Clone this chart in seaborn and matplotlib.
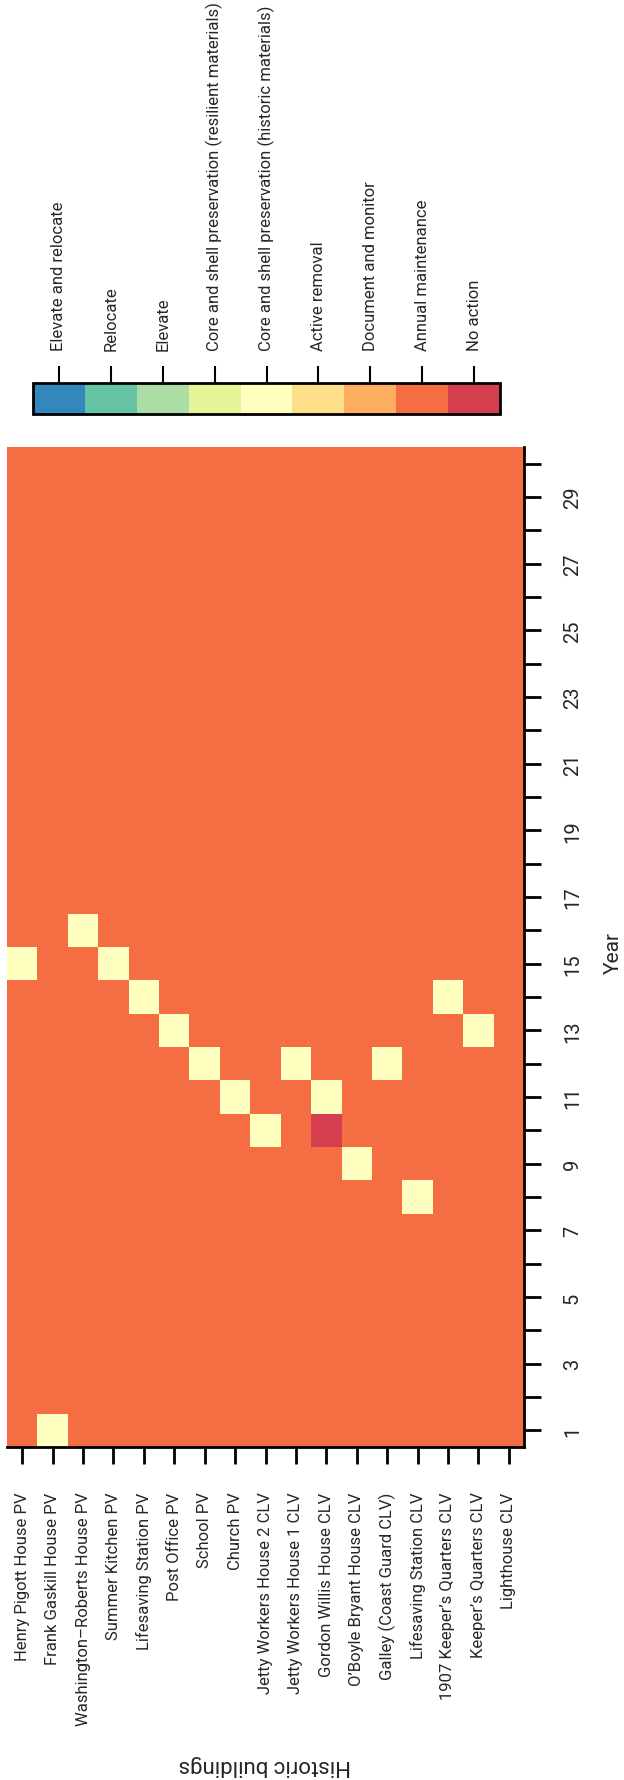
import numpy as np
import pandas as pd
import matplotlib
matplotlib.use("Agg")
import matplotlib.pyplot as plt
from matplotlib.colors import ListedColormap
import seaborn as sns

# Management actions, in legend order
actions = [
    "Elevate and relocate",
    "Relocate",
    "Elevate",
    "Core and shell preservation (resilient materials)",
    "Core and shell preservation (historic materials)",
    "Active removal",
    "Document and monitor",
    "Annual maintenance",
    "No action",
]
action_colors = ["#3288bd", "#66c2a5", "#abdda4", "#e6f598", "#ffffbf",
                 "#fee08b", "#fdae61", "#f46d43", "#d53e4f"]

buildings = [
    "Henry Pigott House PV", "Frank Gaskill House PV", "Washington\u2013Roberts House PV",
    "Summer Kitchen PV", "Lifesaving Station PV", "Post Office PV", "School PV",
    "Church PV", "Jetty Workers House 2 CLV", "Jetty Workers House 1 CLV",
    "Gordon Willis House CLV", "O\u2019Boyle Bryant House CLV", "Galley (Coast Guard CLV)",
    "Lifesaving Station CLV", "1907 Keeper\u2019s Quarters CLV", "Keeper\u2019s Quarters CLV",
    "Lighthouse CLV",
]
years = list(range(1, 31))

# Year of core-and-shell (historic materials) work for each building (None = never)
core_shell_year = [15, 1, 16, 15, 14, 13, 12, 11, 10, 12, 11, 9, 12, 8, 14, 13, None]
# Buildings with a "No action" year
no_action = {"Gordon Willis House CLV": 10}

baseline = actions.index("Annual maintenance")
grid = pd.DataFrame(baseline, index=years[::-1], columns=buildings, dtype=float)
for b, y in zip(buildings, core_shell_year):
    if y is not None:
        grid.loc[y, b] = actions.index("Core and shell preservation (historic materials)")
for b, y in no_action.items():
    grid.loc[y, b] = actions.index("No action")

sns.set_style("white")
font = ["Roboto", "DejaVu Sans"]
plt.rcParams["font.family"] = font

W, H = 624, 1781
fig = plt.figure(figsize=(W / 100, H / 100), dpi=100)
ax = fig.add_axes([7 / W, (H - 1448) / H, (524 - 7) / W, 1000 / H])
cax = fig.add_axes([33 / W, (H - 415) / H, (500 - 33) / W, 31 / H])

cmap = ListedColormap(action_colors)
sns.heatmap(grid, ax=ax, cmap=cmap, vmin=-0.5, vmax=8.5, cbar_ax=cax,
            cbar_kws={"orientation": "horizontal", "ticks": list(range(len(actions)))},
            xticklabels=True, yticklabels=True)

# Year axis on the right
ax.yaxis.tick_right()
ax.set_yticks(np.arange(len(years)) + 0.5)
ax.set_yticklabels([str(y) if y % 2 == 1 else "" for y in grid.index],
                   rotation=90, va="center", ha="left", fontsize=14.5)
ax.set_xticks(np.arange(len(buildings)) + 0.5)
ax.set_xticklabels(buildings, rotation=90, ha="center", va="top", fontsize=12)
ax.tick_params(axis="y", right=True, left=False, length=12, width=2, color="black", pad=16)
ax.tick_params(axis="x", bottom=True, length=12, width=2, color="black", pad=20)
for side in ["left", "top"]:
    ax.spines[side].set_visible(False)
for side in ["right", "bottom"]:
    ax.spines[side].set_visible(True)
    ax.spines[side].set_linewidth(2)
    ax.spines[side].set_color("black")

ax.set_ylabel("Year", rotation=90, fontsize=15, va="center", ha="center")
ax.yaxis.set_label_coords((613 - 7) / 517, (1448 - 953) / 1000)
ax.set_xlabel("Historic buildings", rotation=180, fontsize=16, va="center", ha="center")
ax.xaxis.set_label_coords((265 - 7) / 517, (1448 - 1766) / 1000)

# Legend colour bar
cbar = ax.collections[0].colorbar
cax.xaxis.set_ticks_position("top")
cax.set_xticks(list(range(len(actions))))
cax.set_xticklabels(actions, rotation=90, ha="center", va="bottom", fontsize=12)
cax.tick_params(axis="x", top=True, bottom=False, length=12, width=1.5, color="black", pad=12)
cbar.outline.set_visible(True)
cbar.outline.set_linewidth(2)
cbar.outline.set_edgecolor("black")

fig.savefig("out.png", dpi=100)
